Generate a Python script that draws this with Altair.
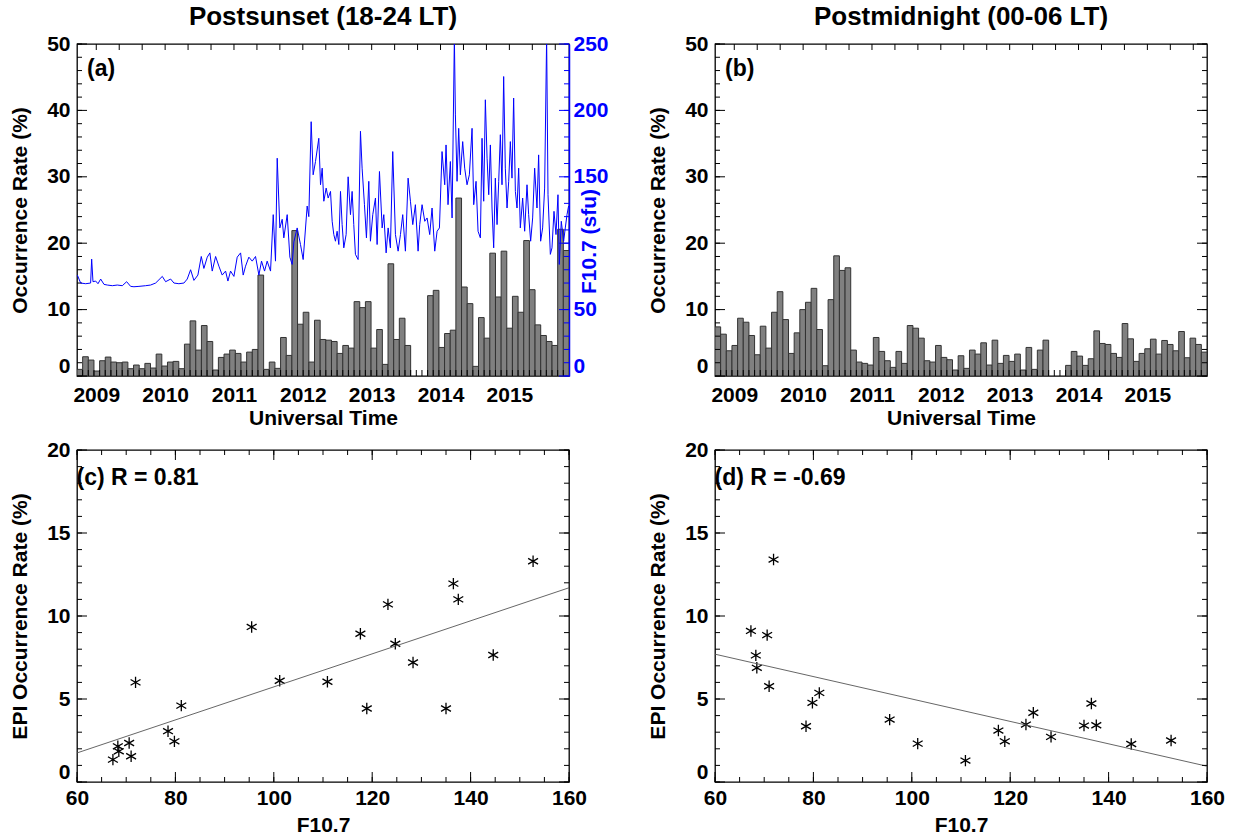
import altair as alt
import pandas as pd

# ---------------- data ----------------
BIN_START = 2008.72
BIN_DAYS = 30.0
n_bins = 87

rate_sunset = [1.0, 2.9, 2.4, 0.75, 2.3, 2.85, 2.1, 2.0, 2.1, 1.1,
               1.65, 1.1, 1.9, 1.2, 3.3, 1.5, 2.1, 2.2, 1.1, 4.8,
               8.3, 3.9, 7.6, 5.2, 0.9, 2.8, 3.3, 3.9, 3.4, 2.1,
               3.6, 4.0, 15.2, 1.0, 2.1, 1.15, 5.8, 3.1, 21.9, 7.8,
               9.6, 2.1, 8.4, 5.5, 5.4, 5.2, 3.4, 4.6, 4.2, 11.2,
               10.3, 11.2, 4.2, 7.0, 1.75, 16.9, 5.5, 8.7, 4.6, 0,
               0, 0, 12.1, 12.9, 4.3, 6.4, 6.9, 26.8, 13.4, 10.9,
               1.45, 8.8, 5.7, 18.5, 11.9, 18.8, 7.2, 12.0, 9.6, 20.4,
               13.0, 7.7, 6.1, 5.2, 4.6, 22.1, 18.9]

rate_midnight = [7.4, 6.3, 3.8, 4.6, 8.7, 8.1, 6.1, 3.2, 7.5, 4.2,
                 9.6, 12.7, 8.5, 3.4, 6.5, 10.0, 11.1, 13.2, 7.0, 1.55,
                 11.5, 18.1, 15.9, 16.3, 3.9, 2.1, 1.9, 1.65, 5.8, 3.7,
                 2.3, 1.3, 3.7, 1.9, 7.6, 7.2, 5.7, 2.3, 2.1, 4.6,
                 2.8, 2.45, 0.9, 3.05, 1.15, 3.9, 3.3, 5.0, 1.65, 5.4,
                 1.9, 3.1, 2.2, 3.3, 0.9, 4.3, 1.0, 3.9, 5.4, 0,
                 0, 0, 1.6, 3.7, 3.0, 1.6, 2.6, 6.8, 4.9, 4.75,
                 3.4, 2.8, 7.9, 5.6, 2.2, 3.4, 4.1, 5.55, 3.3, 5.35,
                 4.75, 3.8, 6.7, 2.75, 5.7, 4.75, 3.6]

f107_t = [2008.725, 2008.773, 2008.846, 2008.918, 2008.933, 2008.952, 2008.991, 2009.025, 2009.064, 2009.112,
          2009.160, 2009.233, 2009.305, 2009.378, 2009.441, 2009.499, 2009.547, 2009.620, 2009.717, 2009.789,
          2009.862, 2009.959, 2010.007, 2010.080, 2010.128, 2010.200, 2010.273, 2010.321, 2010.370, 2010.418,
          2010.476, 2010.525, 2010.563, 2010.612, 2010.650, 2010.684, 2010.733, 2010.781, 2010.829, 2010.878,
          2010.912, 2010.950, 2010.999, 2011.047, 2011.096, 2011.134, 2011.168, 2011.216, 2011.265, 2011.313,
          2011.362, 2011.400, 2011.444, 2011.482, 2011.531, 2011.570, 2011.603, 2011.628, 2011.666, 2011.700,
          2011.724, 2011.773, 2011.812, 2011.845, 2011.870, 2011.918, 2011.966, 2012.005, 2012.063, 2012.087,
          2012.121, 2012.150, 2012.184,
          2012.232, 2012.257, 2012.281, 2012.305, 2012.339, 2012.368, 2012.402, 2012.426, 2012.450, 2012.474,
          2012.498, 2012.523, 2012.547, 2012.571, 2012.595, 2012.629, 2012.658, 2012.692, 2012.716, 2012.740,
          2012.764, 2012.803, 2012.837, 2012.861, 2012.895, 2012.924, 2012.958, 2012.982, 2013.016, 2013.055,
          2013.079, 2013.113, 2013.152, 2013.176, 2013.210, 2013.239, 2013.272, 2013.306, 2013.345, 2013.384,
          2013.418, 2013.451, 2013.490, 2013.529, 2013.563, 2013.597, 2013.635, 2013.674, 2013.698, 2013.732,
          2013.771, 2013.805, 2013.843, 2013.877, 2013.916, 2013.950, 2013.984, 2014.022, 2014.061, 2014.080,
          2014.109, 2014.143, 2014.168, 2014.201, 2014.216, 2014.240, 2014.264, 2014.288, 2014.322, 2014.351,
          2014.385, 2014.419, 2014.458, 2014.482, 2014.516, 2014.545, 2014.579, 2014.603, 2014.627, 2014.651,
          2014.676, 2014.700, 2014.724, 2014.748, 2014.772, 2014.796, 2014.821, 2014.845, 2014.869, 2014.893,
          2014.917, 2014.941, 2014.966, 2014.990, 2015.014, 2015.038, 2015.062, 2015.087, 2015.111, 2015.135,
          2015.159, 2015.193, 2015.222, 2015.256, 2015.280, 2015.309, 2015.338, 2015.367, 2015.401, 2015.425,
          2015.454, 2015.483, 2015.512, 2015.541, 2015.561, 2015.595, 2015.619, 2015.648, 2015.677, 2015.706,
          2015.725, 2015.754, 2015.788, 2015.812, 2015.837, 2015.860]
f107_v = [76, 70, 69.5, 70, 88, 71, 71.5, 69.5, 73, 69,
          68.5, 68, 68.5, 68, 71, 67.5, 67.2, 67.5, 68, 68.5,
          70, 75, 71, 73, 70, 69.5, 70, 73, 80, 72,
          76, 90, 81, 89.5, 92.7, 79, 90, 82.7, 76, 79,
          71.5, 79, 75, 89.5, 92.7, 76, 82.7, 89.5, 86.5, 90,
          76, 86.5, 79, 86.5, 79, 121.5, 86.5, 164, 111.5, 118,
          104, 121.5, 89.5, 84, 101, 111.5, 99, 87.7, 128, 120,
          191.5, 151.5, 161.5,
          179, 144, 156.5, 131.6, 141.5, 134, 139, 116.5, 106.5, 101.5,
          109, 99, 139, 114, 96.5, 106.5, 150, 121.5, 139, 114,
          91.6, 87.7, 184.3, 156.5, 129, 104, 146.6, 101.5, 121.5, 134,
          99, 154, 111.5, 121.5, 92.7, 111.5, 96.5, 169, 106.5, 94,
          106.5, 121.5, 94, 149, 131.6, 114, 129, 94, 114, 129,
          116.5, 119, 106.5, 126.5, 94, 109, 111.5, 169, 144, 174,
          129, 161.5, 119, 255, 196.6, 146.6, 186.5, 151.5, 176.5, 156.5,
          144, 151.5, 186.5, 129, 146.6, 109, 104, 179, 131.6, 208,
          164, 136.5, 174, 126.5, 96.5, 149, 114, 146.6, 181.7, 144,
          225.5, 156.5, 126.5, 146.6, 176.5, 149, 209.3, 139, 126.5, 156.5,
          111.5, 134, 109, 144, 121.5, 101.5, 119, 156.5, 126.5, 166.5,
          101.5, 111.5, 141.5, 255, 136.5, 91.6, 96.5, 124, 106.5, 136.5,
          84, 116.5, 101.5, 111.5, 121.5, 128]

f107_mean = [67.3, 68.3, 68.5, 70.6, 71.0, 71.9, 78.5, 79.8, 81.2, 95.5, 101.2,
             110.9, 117.6, 118.9, 123.2, 124.7, 128.3, 135.0, 136.5, 137.5, 144.6, 152.7]
epi_sunset = [1.35, 2.15, 1.85, 2.35, 1.55, 6.0, 3.06, 2.45, 4.6, 9.34, 6.1,
              6.04, 8.93, 4.43, 10.7, 8.33, 7.2, 4.43, 11.95, 11.0, 7.65, 13.3]
epi_midnight = [9.1, 7.63, 6.88, 8.85, 5.77, 13.4, 3.36, 4.77, 5.37, 3.76, 2.31,
                1.29, 3.1, 2.45, 3.46, 4.17, 2.72, 3.4, 4.73, 3.42, 2.29, 2.5]

fit_x = [60, 160]
fit_sunset = [1.75, 11.7]
fit_midnight = [7.7, 0.95]

year_labels = [2009, 2010, 2011, 2012, 2013, 2014, 2015]
f107_labels = [0, 50, 150, 200, 250]   # "100" sits under the axis title in the original

# ---------------- styling ----------------
W, H = 492, 332
FONT = "Liberation Sans"
BLUE = "#0000ff"
MINOR, MAJOR = 5, 10

bin_t0 = [BIN_START + i * BIN_DAYS / 365.25 for i in range(n_bins)]
bin_t1 = [t + BIN_DAYS / 365.25 for t in bin_t0]
bins_df = pd.DataFrame({"t0": bin_t0, "t1": bin_t1, "base": [0] * n_bins,
                        "sunset": rate_sunset, "midnight": rate_midnight})

xs_time = alt.Scale(domain=[2008.72, 2015.866], nice=False, zero=False)
ys_rate = alt.Scale(domain=[0, 50], nice=False)
ys_f107 = alt.Scale(domain=[0, 250], nice=False)
xs_f = alt.Scale(domain=[60, 160], nice=False, zero=False)
ys_epi = alt.Scale(domain=[0, 20], nice=False)

zero_flush = {"condition": {"test": "datum.value === 0", "value": "bottom"}, "value": "middle"}


def yticks(vals, length, side, scale, color="black"):
    df = pd.DataFrame({"v": vals})
    x0, x1 = (0, length) if side == "left" else (W - length, W)
    return alt.Chart(df).mark_rule(color=color, strokeWidth=1).encode(
        y=alt.Y("v:Q", scale=scale),
        x=alt.value(x0), x2=alt.value(x1))


def xticks(vals, length, side, scale):
    df = pd.DataFrame({"v": vals})
    y0, y1 = (H - length, H) if side == "bottom" else (0, length)
    return alt.Chart(df).mark_rule(color="black", strokeWidth=1).encode(
        x=alt.X("v:Q", scale=scale),
        y=alt.value(y0), y2=alt.value(y1))


def label(text, x, y, xscale, yscale):
    df = pd.DataFrame({"x": [x], "y": [y], "t": [text]})
    return alt.Chart(df).mark_text(align="left", baseline="middle", font=FONT,
                                   fontWeight="bold", fontSize=23, color="black").encode(
        x=alt.X("x:Q", scale=xscale),
        y=alt.Y("y:Q", scale=yscale),
        text="t:N")


rate_minor = list(range(0, 51, 2))
rate_major = list(range(0, 51, 10))
f107_minor = list(range(0, 251, 10))
f107_major = list(range(0, 251, 50))
top_time_ticks = [y + k / 3.0 for y in range(2008, 2016) for k in range(3)
                  if 2008.72 < y + k / 3.0 < 2015.866]


def bar_panel(col, tag, right_ticks=True):
    bars = alt.Chart(bins_df).transform_filter(f"datum.{col} > 0").mark_bar(
        fill="#808080", stroke="#333333", strokeWidth=1, clip=True).encode(
        x=alt.X("t0:Q", scale=xs_time,
                axis=alt.Axis(values=year_labels, format="d", title="Universal Time",
                              labelPadding=8, titlePadding=2)),
        x2="t1:Q",
        y=alt.Y(f"{col}:Q", scale=ys_rate,
                axis=alt.Axis(values=rate_major, title="Occurrence Rate (%)",
                              labelPadding=7, titlePadding=16, labelBaseline=zero_flush)),
        y2="base:Q")
    layers = [bars,
              yticks(rate_minor, MINOR, "left", ys_rate),
              yticks(rate_major, MAJOR, "left", ys_rate),
              xticks(bin_t0[1:], 6, "bottom", xs_time),
              xticks(top_time_ticks, 6, "top", xs_time),
              label(tag, 2008.865, 46.2, xs_time, ys_rate)]
    if right_ticks:
        layers += [yticks(rate_minor, MINOR, "right", ys_rate),
                   yticks(rate_major, MAJOR, "right", ys_rate)]
    return alt.layer(*layers)


# panel (a)
left_a = bar_panel("sunset", "(a)", right_ticks=False)
f107_df = pd.DataFrame({"t": f107_t, "f": f107_v})
line_a = alt.Chart(f107_df).mark_line(color=BLUE, strokeWidth=1, clip=True).encode(
    x=alt.X("t:Q", scale=xs_time),
    y=alt.Y("f:Q", scale=ys_f107,
            axis=alt.Axis(orient="right", values=f107_labels, title="F10.7 (sfu)",
                          labelColor=BLUE, titleColor=BLUE, domain=True, domainColor=BLUE,
                          domainWidth=1.5, labelPadding=4, titleAngle=-90,
                          titleX=20, titleY=197, titleAlign="center", titleBaseline="middle",
                          labelBaseline=zero_flush)))
right_a = alt.layer(line_a,
                    yticks(f107_minor, MINOR, "right", ys_f107, BLUE),
                    yticks(f107_major, MAJOR, "right", ys_f107, BLUE))
panel_a = alt.layer(left_a, right_a).resolve_scale(y="independent").properties(
    width=W, height=H,
    title=alt.TitleParams("Postsunset (18-24 LT)", fontSize=26, offset=3))

panel_b = bar_panel("midnight", "(b)").properties(
    width=W, height=H,
    title=alt.TitleParams("Postmidnight (00-06 LT)", fontSize=26, offset=3))

STAR = "M0,-1L0,1M-0.87,-0.5L0.87,0.5M-0.87,0.5L0.87,-0.5"
scat_df = pd.DataFrame({"f": f107_mean, "s": epi_sunset, "m": epi_midnight})
fit_df = pd.DataFrame({"x": fit_x, "s": fit_sunset, "m": fit_midnight})


def scatter_panel(col, tag):
    pts = alt.Chart(scat_df).mark_point(shape=STAR, filled=False, stroke="black",
                                        strokeWidth=1.3, size=130, opacity=1).encode(
        x=alt.X("f:Q", scale=xs_f,
                axis=alt.Axis(values=[60, 80, 100, 120, 140, 160], title="F10.7",
                              labelPadding=5, titlePadding=6, labelFlush=False)),
        y=alt.Y(f"{col}:Q", scale=ys_epi,
                axis=alt.Axis(values=[0, 5, 10, 15, 20], title="EPI Occurrence Rate (%)",
                              labelPadding=7, titlePadding=16, labelBaseline=zero_flush)))
    fit = alt.Chart(fit_df).mark_line(color="#555555", strokeWidth=0.9).encode(
        x=alt.X("x:Q", scale=xs_f),
        y=alt.Y(f"{col}:Q", scale=ys_epi))
    fx_minor = list(range(60, 161, 5))
    fx_major = list(range(60, 161, 20))
    ey_minor = list(range(0, 21, 1))
    ey_major = list(range(0, 21, 5))
    return alt.layer(
        pts, fit,
        xticks(fx_minor, MINOR, "bottom", xs_f), xticks(fx_major, MAJOR, "bottom", xs_f),
        xticks(fx_minor, MINOR, "top", xs_f), xticks(fx_major, MAJOR, "top", xs_f),
        yticks(ey_minor, MINOR, "left", ys_epi), yticks(ey_major, MAJOR, "left", ys_epi),
        yticks(ey_minor, MINOR, "right", ys_epi), yticks(ey_major, MAJOR, "right", ys_epi),
        label(tag, 59.9, 18.33, xs_f, ys_epi),
    ).properties(width=W, height=H)


panel_c = scatter_panel("s", "(c) R = 0.81")
panel_d = scatter_panel("m", "(d) R = -0.69")

chart = alt.concat(panel_a, panel_b, panel_c, panel_d, columns=2,
                   spacing={"row": 74, "column": 146}, bounds="flush").properties(
    padding={"left": 8, "top": 3, "right": 0, "bottom": 0}
).configure_view(stroke="black", strokeWidth=1.3).configure_axis(
    labelFont=FONT, labelFontWeight="bold", labelFontSize=21, labelColor="black",
    titleFont=FONT, titleFontWeight="bold", titleFontSize=21, titleColor="black",
    ticks=False, tickSize=0, domain=False, grid=False
).configure_title(font=FONT, fontWeight="bold", anchor="middle", color="black")

chart.save("out.html", embed_options={"renderer": "svg", "actions": False})
